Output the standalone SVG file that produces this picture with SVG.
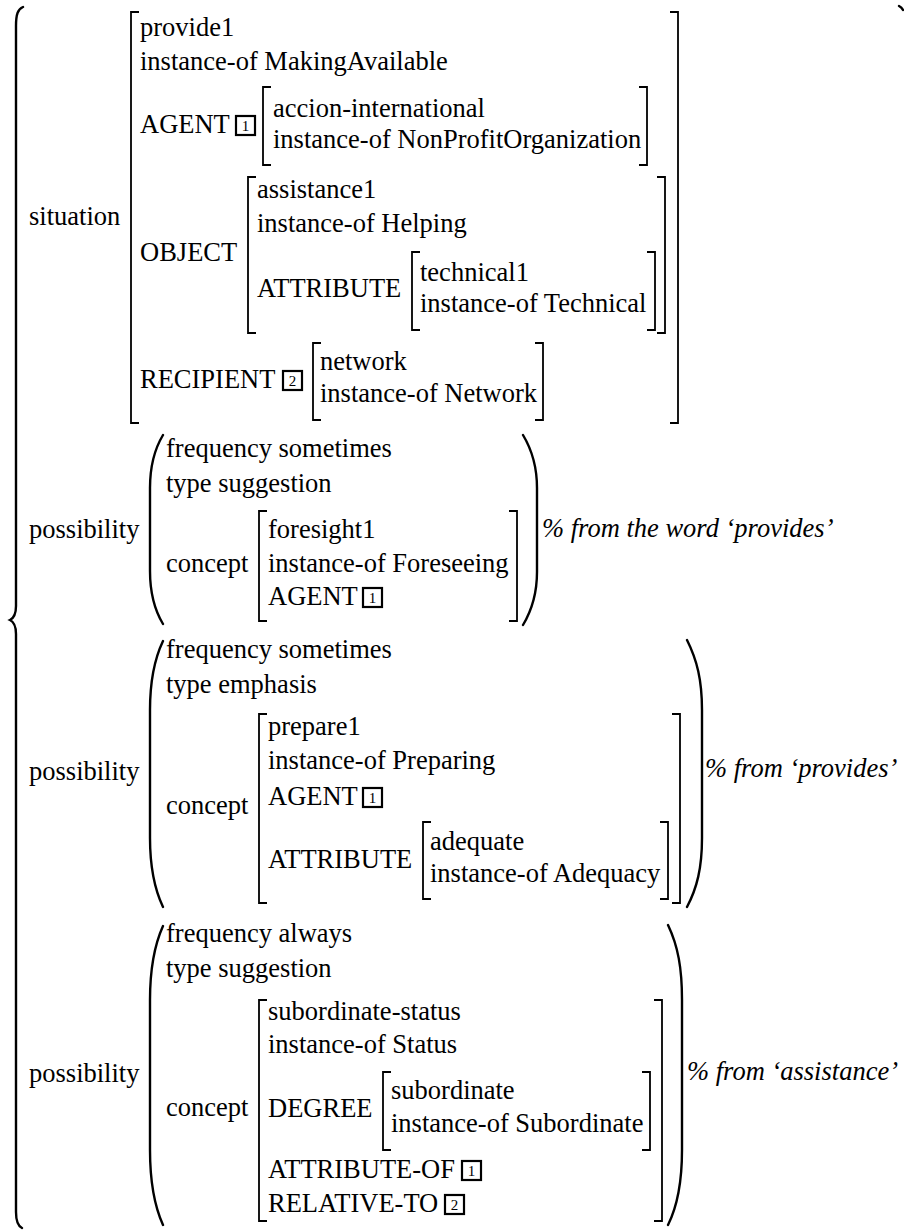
<svg xmlns="http://www.w3.org/2000/svg" width="904" height="1232" viewBox="0 0 904 1232">
<style>
text{font-family:"Liberation Serif","Times New Roman",serif;font-size:26.5px;fill:#000}
.c{font-style:italic}
.n{font-size:15px;text-anchor:middle}
.b{fill:none;stroke:#000;stroke-width:1.8}
.p{fill:none;stroke:#000;stroke-width:2.4;stroke-linecap:round}
.bx{fill:none;stroke:#000;stroke-width:2.2}
</style>
<rect width="904" height="1232" fill="#fff"/>
<g id="outer">
<path class="p" d="M23,7 C18,9 16,14 16,26 L16,606 C16,614 14,618 10,620 C14,622 16,626 16,634 L16,1212 C16,1222 18,1226 22,1228"/>
<path class="p" d="M899,6 C901,7 902,8 903,10"/>
</g>
<g id="situation">
<text x="29" y="225">situation</text>
<path class="b" d="M139,12 H131 V423 H139"/>
<path class="b" d="M670,12 H678 V423 H670"/>
<text x="140" y="36">provide1</text>
<text x="140" y="70">instance-of MakingAvailable</text>
<text x="140" y="133">AGENT</text>
<rect class="bx" x="236" y="116" width="19" height="19"/><text class="n" x="245.5" y="131">1</text>
<path class="b" d="M271,87 H263 V165 H271"/>
<path class="b" d="M639,87 H647 V165 H639"/>
<text x="273" y="117">accion-international</text>
<text x="273" y="148">instance-of NonProfitOrganization</text>
<text x="140" y="261">OBJECT</text>
<path class="b" d="M256,177 H248 V333 H256"/>
<path class="b" d="M657,177 H665 V333 H657"/>
<text x="257" y="198">assistance1</text>
<text x="257" y="232">instance-of Helping</text>
<text x="257" y="297">ATTRIBUTE</text>
<path class="b" d="M420,252 H412 V330 H420"/>
<path class="b" d="M647,252 H655 V330 H647"/>
<text x="420" y="281">technical1</text>
<text x="420" y="312">instance-of Technical</text>
<text x="140" y="388">RECIPIENT</text>
<rect class="bx" x="283" y="371" width="19" height="19"/><text class="n" x="292.5" y="386">2</text>
<path class="b" d="M321,343 H313 V420 H321"/>
<path class="b" d="M535,343 H543 V420 H535"/>
<text x="320" y="370">network</text>
<text x="320" y="402">instance-of Network</text>
</g>
<g id="possibility1">
<text x="29" y="538">possibility</text>
<path class="p" d="M163,435 C154,450 150,466 150,488 L150,571 C150,593 154,609 163,624"/>
<path class="p" d="M523,435 C532,450 537,466 537,488 L537,572 C537,594 532,610 523,625"/>
<text x="166" y="457">frequency sometimes</text>
<text x="166" y="492">type suggestion</text>
<text x="166" y="572">concept</text>
<path class="b" d="M267,511 H259 V621 H267"/>
<path class="b" d="M509,511 H517 V621 H509"/>
<text x="268" y="538">foresight1</text>
<text x="268" y="572">instance-of Foreseeing</text>
<text x="268" y="605">AGENT</text>
<rect class="bx" x="363" y="588" width="19" height="19"/><text class="n" x="372.5" y="603">1</text>
<text class="c" x="542" y="537">% from the word ‘provides’</text>
</g>
<g id="possibility2">
<text x="29" y="780">possibility</text>
<path class="p" d="M163,641 C154,660 150,680 150,710 L150,838 C150,868 154,888 163,907"/>
<path class="p" d="M687,640 C697,660 702,680 702,710 L702,838 C702,868 697,888 687,907"/>
<text x="166" y="658">frequency sometimes</text>
<text x="166" y="693">type emphasis</text>
<text x="166" y="814">concept</text>
<path class="b" d="M267,714 H259 V903 H267"/>
<path class="b" d="M672,714 H680 V903 H672"/>
<text x="268" y="735">prepare1</text>
<text x="268" y="769">instance-of Preparing</text>
<text x="268" y="805">AGENT</text>
<rect class="bx" x="363" y="788" width="19" height="19"/><text class="n" x="372.5" y="803">1</text>
<text x="268" y="868">ATTRIBUTE</text>
<path class="b" d="M431,822 H423 V899 H431"/>
<path class="b" d="M660,822 H668 V899 H660"/>
<text x="430" y="850">adequate</text>
<text x="430" y="882">instance-of Adequacy</text>
<text class="c" x="705" y="777">% from ‘provides’</text>
</g>
<g id="possibility3">
<text x="29" y="1082">possibility</text>
<path class="p" d="M163,926 C154,946 150,968 150,1000 L150,1150 C150,1182 154,1205 163,1225"/>
<path class="p" d="M668,925 C678,946 682,968 682,1000 L682,1150 C682,1182 678,1205 668,1225"/>
<text x="166" y="942">frequency always</text>
<text x="166" y="977">type suggestion</text>
<text x="166" y="1116">concept</text>
<path class="b" d="M267,1000 H259 V1221 H267"/>
<path class="b" d="M654,1000 H662 V1221 H654"/>
<text x="268" y="1020">subordinate-status</text>
<text x="268" y="1053">instance-of Status</text>
<text x="268" y="1117">DEGREE</text>
<path class="b" d="M391,1072 H383 V1150 H391"/>
<path class="b" d="M642,1072 H650 V1150 H642"/>
<text x="391" y="1099">subordinate</text>
<text x="391" y="1132">instance-of Subordinate</text>
<text x="268" y="1178">ATTRIBUTE-OF</text>
<rect class="bx" x="462" y="1161" width="19" height="19"/><text class="n" x="471.5" y="1176">1</text>
<text x="268" y="1212">RELATIVE-TO</text>
<rect class="bx" x="445" y="1195" width="19" height="19"/><text class="n" x="454.5" y="1210">2</text>
<text class="c" x="687" y="1080">% from ‘assistance’</text>
</g>
</svg>
